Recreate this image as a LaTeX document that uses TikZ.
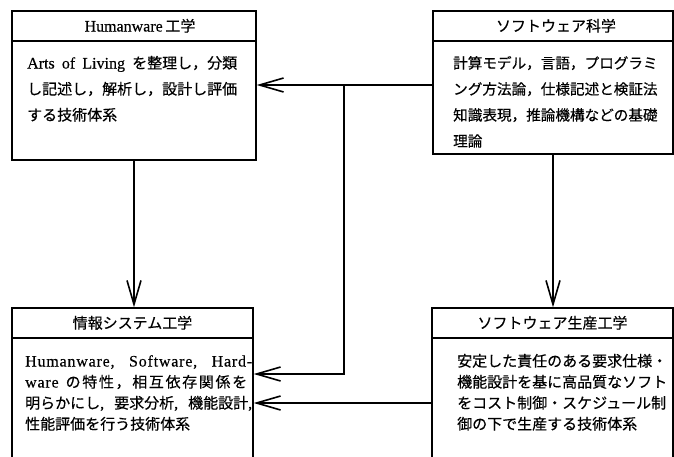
\documentclass[tikz,border=0pt]{standalone}
\usepackage{fontspec}
\setmainfont[FakeBold=0.3]{Liberation Serif}
\newfontfamily\latsp[LetterSpace=5,FakeBold=0.3]{Liberation Serif}
\newfontfamily\jpfont[FakeBold=0.4]{Noto Sans CJK JP}
\newcommand\J[1]{{\jpfont\fontsize{15}{18}\selectfont #1}}
\newcommand\Js[1]{{\jpfont\fontsize{14.6}{18}\selectfont #1}}
\usetikzlibrary{arrows.meta}
\begin{document}
\begin{tikzpicture}[x=1pt,y=-1pt,
  box/.style={draw,line width=1.4pt,rectangle,inner sep=0pt},
  txt/.style={inner sep=0pt,anchor=base west,font=\fontsize{16}{18}\selectfont},
  ttl/.style={inner sep=0pt,anchor=base,font=\fontsize{16}{18}\selectfont},
  arr/.style={line width=1.4pt,-{Straight Barb[length=24pt,width=14pt,line width=1.6pt]}},
  ln/.style={line width=1.4pt}]
\useasboundingbox (0,0) rectangle (674,456);
\clip (0,0) rectangle (674,456);
% boxes
\node[box,minimum width=244pt,minimum height=149pt] (hw) at (134,85.5) {};
\node[box,minimum width=240pt,minimum height=143pt] (sw) at (553,82.5) {};
\node[box,minimum width=241pt,minimum height=170pt] (is) at (132.5,393) {};
\node[box,minimum width=241pt,minimum height=170pt] (sp) at (552.5,393) {};
% dividers
\coordinate (d1) at (0,41);
\coordinate (d2) at (0,338);
\draw[ln] (hw.west |- d1) -- (hw.east |- d1);
\draw[ln] (sw.west |- d1) -- (sw.east |- d1);
\draw[ln] (is.west |- d2) -- (is.east |- d2);
\draw[ln] (sp.west |- d2) -- (sp.east |- d2);
% titles
\node[ttl] (hwt) at (140,31.5) {Humanware\,\J{工学}};
\node[ttl] (swt) at (556,31.5) {\J{ソフトウェア科学}};
\node[ttl] (ist) at (132.5,328.5) {\J{情報システム工学}};
\node[ttl] (spt) at (552.5,328.5) {\J{ソフトウェア生産工学}};
% body texts
\node[txt] (hw1) at (27,68.5) {\makebox[210pt][s]{Arts of Living \J{を整理し，分類}}};
\node[txt] (hw2) at (27,94.5) {\J{し記述し，解析し，設計し評価}};
\node[txt] (hw3) at (27,120.5) {\J{する技術体系}};
\node[txt] (sw1) at (453,68.5) {\Js{計算モデル，言語，プログラミ}};
\node[txt] (sw2) at (453,94.5) {\Js{ング方法論，仕様記述と検証法}};
\node[txt] (sw3) at (453,120.5) {\Js{知識表現，推論機構などの基礎}};
\node[txt] (sw4) at (453,146.5) {\Js{理論}};
\node[txt] (is1) at (25,366.5) {\makebox[227pt][s]{\latsp Humanware, Software, Hard-}};
\node[txt] (is2) at (25,387.5) {\makebox[222pt][s]{{\latsp ware}\hspace{7pt}\J{の\hfil 特\hfil 性\hfil ，\hfil 相\hfil 互\hfil 依\hfil 存\hfil 関\hfil 係\hfil を}}};
\node[txt] (is3) at (25,408.5) {\makebox[227pt][s]{\J{明らかにし}, \J{要求分析}, \J{機能設計},}};
\node[txt] (is4) at (25,429.5) {\J{性能評価を行う技術体系}};
\node[txt] (sp1) at (457,366.5) {\J{安定した責任のある要求仕様・}};
\node[txt] (sp2) at (457,387.5) {\J{機能設計を基に高品質なソフト}};
\node[txt] (sp3) at (457,408.5) {\J{をコスト制御・スケジュール制}};
\node[txt] (sp4) at (457,429.5) {\J{御の下で生産する技術体系}};
% connectors
\coordinate (j) at (344,85);
\coordinate (y1) at (0,374);
\coordinate (y2) at (0,403);
\draw[arr] (sw.west |- j) -- (hw.east |- j);
\draw[arr] (j) |- (is.east |- y1);
\draw[arr] (sp.west |- y2) -- (is.east |- y2);
\draw[arr] (hw.south) -- (hw.south |- is.north);
\draw[arr] (sw.south) -- (sw.south |- sp.north);
\end{tikzpicture}
\end{document}
